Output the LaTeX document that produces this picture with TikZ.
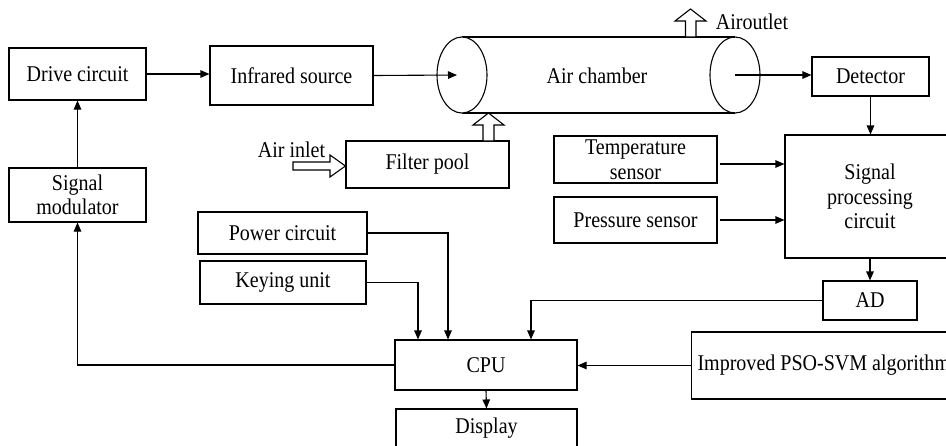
\documentclass[tikz,border=0pt]{standalone}
\usepackage{fontspec}
\setmainfont{Liberation Serif}[FakeStretch=0.89]
\usetikzlibrary{arrows.meta}
\begin{document}
\begin{tikzpicture}[x=1pt,y=-1pt,
  box/.style={draw, line width=1.1pt, inner sep=0pt, align=center, font=\fontsize{22.5}{24.5}\selectfont},
  lbl/.style={inner sep=0pt, font=\fontsize{22.5}{24.5}\selectfont},
  arr/.style={line width=1.1pt, -{Triangle[length=9pt,width=7.5pt]}},
  ln/.style={line width=1.1pt},
  hollow/.style={draw, line width=1.1pt, fill=white, line join=miter}]
\useasboundingbox (0,0) rectangle (946,445);
% boxes
\node[box, minimum width=137pt, minimum height=52pt] (drive) at (77.5,74) {Drive circuit};
\node[box, minimum width=163pt, minimum height=59pt] (ir) at (291.5,75.5) {Infrared source};
\node[box, minimum width=137pt, minimum height=54pt] (sigmod) at (77.5,195) {Signal\\modulator};
\node[box, minimum width=163pt, minimum height=47pt] (filter) at (427.5,164.5) {Filter pool};
\node[box, minimum width=163pt, minimum height=47pt] (temp) at (635.5,159.5) {Temperature\\sensor};
\node[box, minimum width=163pt, minimum height=46pt] (press) at (635.5,220) {Pressure sensor};
\node[box, minimum width=117pt, minimum height=39pt] (det) at (870.5,76.5) {Detector};
\node[box, minimum width=170pt, minimum height=123pt] (sp) at (870,196.5) {Signal\\processing\\circuit};
\node[box, minimum width=94pt, minimum height=39pt] (ad) at (870,300.5) {AD};
\node[box, anchor=west, inner xsep=6pt, minimum height=67pt] (pso) at (691,365.5) {Improved PSO-SVM algorithm};
\node[box, minimum width=169pt, minimum height=42pt] (power) at (282.5,233) {Power circuit};
\node[box, minimum width=166pt, minimum height=43pt] (key) at (283,282.5) {Keying unit};
\node[box, minimum width=182pt, minimum height=50pt] (cpu) at (486,365) {CPU};
\node[box, minimum width=181pt, minimum height=38pt] (disp) at (486.5,428) {Display};
% air chamber
\coordinate (lend) at (462,75);
\coordinate (rend) at (735,75);
\draw[ln] (462,37) -- (735,37);
\draw[ln] (462,113) -- (735,113);
\draw[ln, fill=white] (lend) ellipse [x radius=25, y radius=38];
\draw[ln] (rend) ellipse [x radius=25, y radius=38];
\node[lbl] (chamber) at (597,76) {Air chamber};
\node[lbl] (outlet) at (752,22) {Airoutlet};
\node[lbl] (inlet) at (291.5,150) {Air inlet};
% hollow arrows
\draw[hollow] (293,162) -- (330,162) -- (330,155) -- (filter.west |- 0,166) -- (330,177) -- (330,170) -- (293,170) -- cycle;
\draw[hollow] (483,141) -- (483,125) -- (473,125) -- (488.5,113) -- (504,125) -- (494,125) -- (494,141) -- cycle;
\draw[hollow] (685.5,37) -- (685.5,21) -- (675,21) -- (690.5,9) -- (706,21) -- (696,21) -- (696,37) -- cycle;
% connectors
\draw[arr] (drive.east) -- (drive.east -| ir.west);
\draw[arr] (ir.east) -- ([xshift=-5pt]lend);
\draw[arr] (rend) -- (rend -| det.west);
\draw[arr] (sigmod.north) -- (drive.south);
\draw[arr] (det.south) -- (det.south |- sp.north);
\draw[arr] ([shift={(2pt,-4.5pt)}]temp.east) -- ([yshift=-4.5pt]temp.east -| sp.west);
\draw[arr] ([xshift=2pt]press.east) -- (press.east -| sp.west);
\draw[arr] (sp.south) -- (ad.north);
\draw[arr] (ad.west) -| ([xshift=45pt]cpu.north);
\draw[arr] (pso.west) -- (pso.west -| cpu.east);
\draw[arr] (power.east) -| ([xshift=-38pt]cpu.north);
\draw[arr] (key.east) -| ([xshift=-68pt]cpu.north);
\draw[arr] (cpu.south) -- (disp.north);
\draw[arr] (cpu.west) -| (sigmod.south);
\end{tikzpicture}
\end{document}
